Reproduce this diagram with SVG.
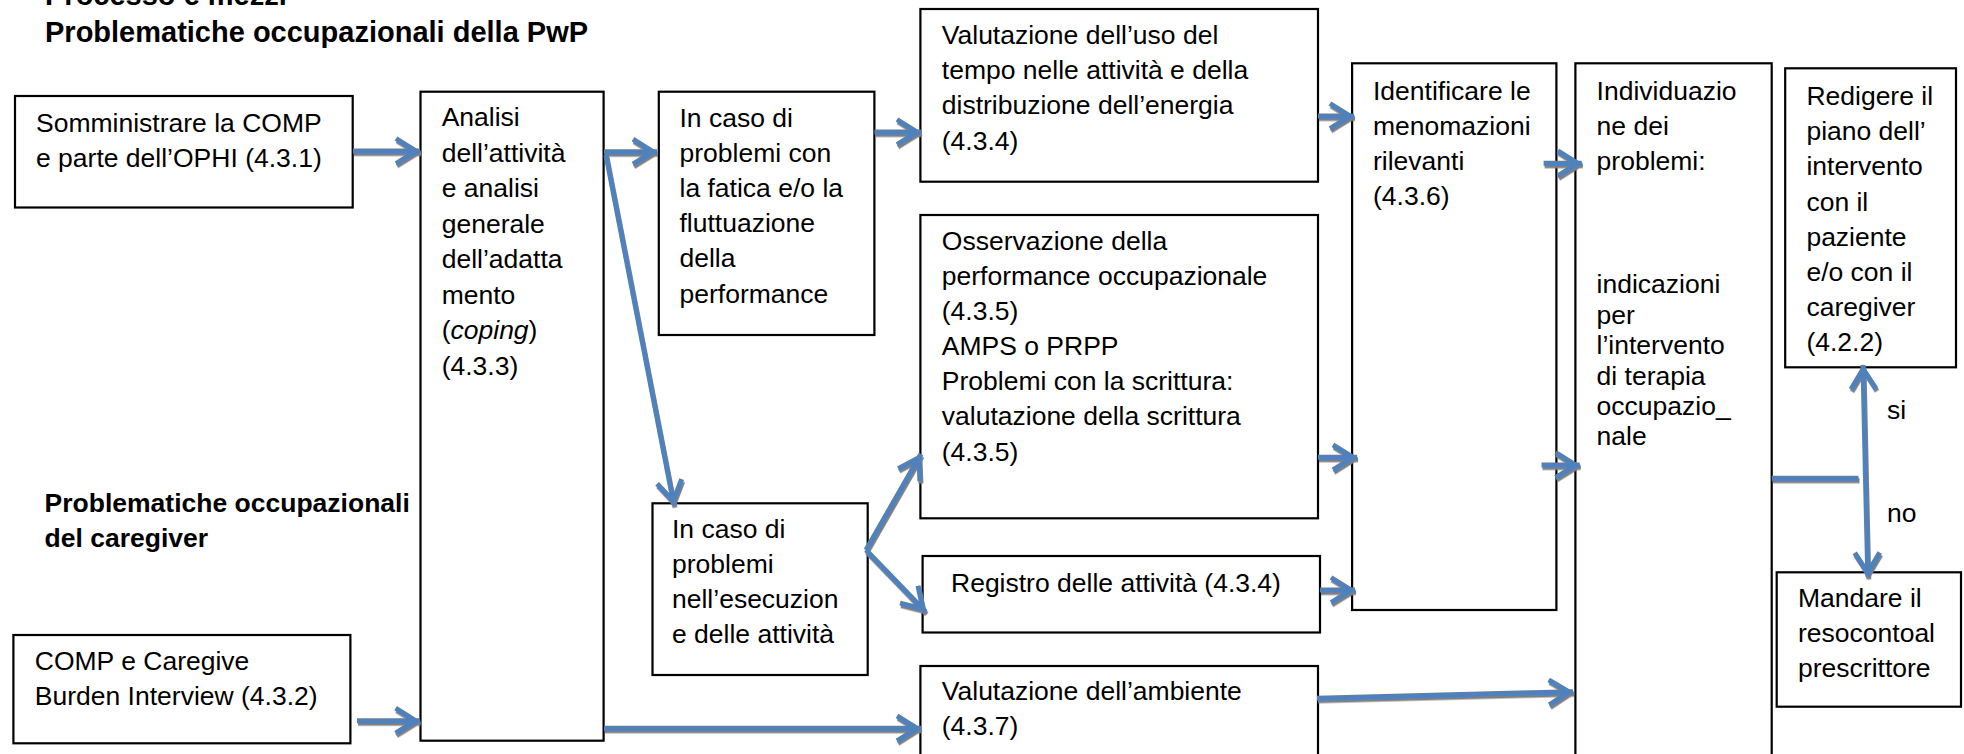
<svg xmlns="http://www.w3.org/2000/svg" width="1964" height="754" viewBox="0 0 1964 754">
<style>
.bg{fill:#ffffff}
.box{fill:#ffffff;stroke:#000000;stroke-width:2.2}
.t{font-family:"Liberation Sans",Arial,sans-serif;font-size:26.5px;fill:#000000}
.h{font-family:"Liberation Sans",Arial,sans-serif;font-weight:bold;fill:#000000}
.c{fill:none;stroke:#4F81BD;stroke-width:5}
</style>
<defs>
<filter id="sh" x="-20%" y="-20%" width="140%" height="140%">
<feDropShadow dx="1" dy="2.5" stdDeviation="0.4" flood-color="#7f7f7f" flood-opacity="1"/>
</filter>
<marker id="ah" markerUnits="userSpaceOnUse" viewBox="-28 -16 32 32" markerWidth="32" markerHeight="32" refX="0" refY="0" orient="auto">
<path d="M-24,-12.5 L-4,0 L-24,12.5" fill="none" stroke="#4F81BD" stroke-width="5"/>
</marker>
</defs>
<rect class="bg" x="0" y="0" width="1964" height="754"/>

<g id="headings">
<text class="h" x="45" y="5" font-size="29">Processo e mezzi</text>
<text class="h" x="45" y="42" font-size="29">Problematiche occupazionali della PwP</text>
<text class="h" x="44.6" y="511.7" font-size="26.5">Problematiche occupazionali</text>
<text class="h" x="44.6" y="546.7" font-size="26.5">del caregiver</text>
</g>

<g id="n-somministrare">
<rect class="box" x="15" y="96" width="337.7" height="111.5"/>
<text class="t" x="36" y="131.7">Somministrare la COMP</text>
<text class="t" x="36" y="167">e parte dell’OPHI (4.3.1)</text>
</g>

<g id="n-comp-caregiver">
<rect class="box" x="13.4" y="635" width="337" height="108.3"/>
<text class="t" x="34.8" y="670">COMP e Caregive</text>
<text class="t" x="34.8" y="705">Burden Interview (4.3.2)</text>
</g>

<g id="n-analisi">
<rect class="box" x="420.5" y="91.7" width="183.1" height="649"/>
<text class="t" x="441.7" y="126">Analisi</text>
<text class="t" x="441.7" y="161.5">dell’attività</text>
<text class="t" x="441.7" y="197">e analisi</text>
<text class="t" x="441.7" y="232.5">generale</text>
<text class="t" x="441.7" y="268">dell’adatta</text>
<text class="t" x="441.7" y="303.5">mento</text>
<text class="t" x="441.7" y="339">(<tspan font-style="italic">coping</tspan>)</text>
<text class="t" x="441.7" y="374.5">(4.3.3)</text>
</g>

<g id="n-fatica">
<rect class="box" x="658.8" y="91.7" width="215.6" height="243.3"/>
<text class="t" x="679.5" y="126.7">In caso di</text>
<text class="t" x="679.5" y="162">problemi con</text>
<text class="t" x="679.5" y="197">la fatica e/o la</text>
<text class="t" x="679.5" y="232">fluttuazione</text>
<text class="t" x="679.5" y="267">della</text>
<text class="t" x="679.5" y="302.5">performance</text>
</g>

<g id="n-esecuzione">
<rect class="box" x="652.5" y="503.3" width="215.2" height="171.7"/>
<text class="t" x="672" y="538.3">In caso di</text>
<text class="t" x="672" y="573.3">problemi</text>
<text class="t" x="672" y="608.3">nell’esecuzion</text>
<text class="t" x="672" y="643.3">e delle attività</text>
</g>

<g id="n-tempo">
<rect class="box" x="920.4" y="9" width="397.6" height="172.7"/>
<text class="t" x="941.8" y="43.5">Valutazione dell’uso del</text>
<text class="t" x="941.8" y="79">tempo nelle attività e della</text>
<text class="t" x="941.8" y="114">distribuzione dell’energia</text>
<text class="t" x="941.8" y="149.5">(4.3.4)</text>
</g>

<g id="n-osservazione">
<rect class="box" x="920.4" y="215" width="397.6" height="303.3"/>
<text class="t" x="941.8" y="250">Osservazione della</text>
<text class="t" x="941.8" y="285">performance occupazionale</text>
<text class="t" x="941.8" y="320">(4.3.5)</text>
<text class="t" x="941.8" y="355">AMPS o PRPP</text>
<text class="t" x="941.8" y="390">Problemi con la scrittura:</text>
<text class="t" x="941.8" y="425">valutazione della scrittura</text>
<text class="t" x="941.8" y="461">(4.3.5)</text>
</g>

<g id="n-registro">
<rect class="box" x="922.6" y="556" width="397.4" height="76.5"/>
<text class="t" x="951" y="591.7">Registro delle attività (4.3.4)</text>
</g>

<g id="n-ambiente">
<rect class="box" x="920.4" y="666" width="397.6" height="100"/>
<text class="t" x="941.8" y="700">Valutazione dell’ambiente</text>
<text class="t" x="941.8" y="735">(4.3.7)</text>
</g>

<g id="n-identificare">
<rect class="box" x="1352.1" y="63.3" width="204.3" height="546.7"/>
<text class="t" x="1373" y="100">Identificare le</text>
<text class="t" x="1373" y="135">menomazioni</text>
<text class="t" x="1373" y="170">rilevanti</text>
<text class="t" x="1373" y="205">(4.3.6)</text>
</g>

<g id="n-individuazione">
<rect class="box" x="1575.4" y="63.3" width="196.3" height="710"/>
<text class="t" x="1596.6" y="100">Individuazio</text>
<text class="t" x="1596.6" y="135">ne dei</text>
<text class="t" x="1596.6" y="170">problemi:</text>
<text class="t" x="1596.6" y="293">indicazioni</text>
<text class="t" x="1596.6" y="323.5">per</text>
<text class="t" x="1596.6" y="354">l’intervento</text>
<text class="t" x="1596.6" y="384.5">di terapia</text>
<text class="t" x="1596.6" y="415">occupazio_</text>
<text class="t" x="1596.6" y="445">nale</text>
</g>

<g id="n-redigere">
<rect class="box" x="1785.2" y="68.3" width="170.8" height="299"/>
<text class="t" x="1806.4" y="105">Redigere il</text>
<text class="t" x="1806.4" y="140.2">piano dell’</text>
<text class="t" x="1806.4" y="175.4">intervento</text>
<text class="t" x="1806.4" y="210.6">con il</text>
<text class="t" x="1806.4" y="245.8">paziente</text>
<text class="t" x="1806.4" y="281">e/o con il</text>
<text class="t" x="1806.4" y="316.2">caregiver</text>
<text class="t" x="1806.4" y="351.4">(4.2.2)</text>
</g>

<g id="n-mandare">
<rect class="box" x="1776.7" y="572.3" width="184.3" height="134.4"/>
<text class="t" x="1798" y="606.7">Mandare il</text>
<text class="t" x="1798" y="641.7">resocontoal</text>
<text class="t" x="1798" y="676.7">prescrittore</text>
</g>

<g id="labels">
<text class="t" x="1887" y="419.3">si</text>
<text class="t" x="1887" y="521.7">no</text>
</g>

<g id="connectors" filter="url(#sh)">
<path class="c" d="M353,151 L420,151" marker-end="url(#ah)"/>
<path class="c" d="M604,151.7 L657,151.7" marker-end="url(#ah)"/>
<path class="c" d="M606,155 L674,505" marker-end="url(#ah)"/>
<path class="c" d="M874.4,132 L921,132" marker-end="url(#ah)"/>
<path class="c" d="M1318,116 L1354,116" marker-end="url(#ah)"/>
<path class="c" d="M1543.6,163.3 L1581.8,163.3" marker-end="url(#ah)"/>
<path class="c" d="M1318,457.3 L1357,457.3" marker-end="url(#ah)"/>
<path class="c" d="M1320,590 L1355,590" marker-end="url(#ah)"/>
<path class="c" d="M1541.5,465 L1579.7,465" marker-end="url(#ah)"/>
<path class="c" d="M1317,698.3 L1573,691.7" marker-end="url(#ah)"/>
<path class="c" d="M866,550 L921,454" marker-end="url(#ah)"/>
<path class="c" d="M866,550 L925.7,611.7" marker-end="url(#ah)"/>
<path class="c" d="M357,720.7 L419.6,720.7" marker-end="url(#ah)"/>
<path class="c" d="M604,728.3 L921,728.3" marker-end="url(#ah)"/>
<path class="c" d="M1771.7,478.3 L1858.5,478.3"/>
<path class="c" d="M1865.5,478.3 L1863,365" marker-end="url(#ah)"/>
<path class="c" d="M1865.5,478.3 L1867.8,576.7" marker-end="url(#ah)"/>
</g>
</svg>
